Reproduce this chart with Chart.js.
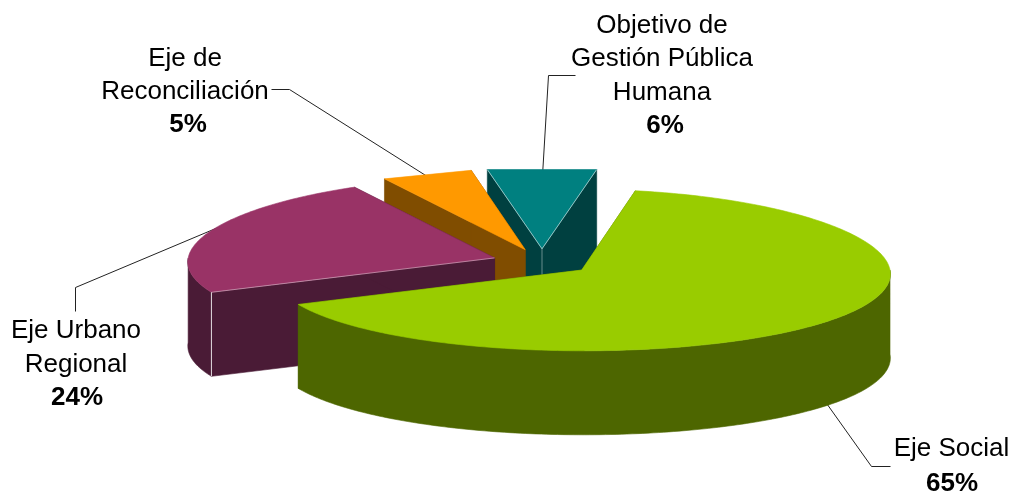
<!DOCTYPE html>
<html>
<head>
<meta charset="utf-8">
<style>html,body{margin:0;padding:0;background:#fff}#wrap{width:1013px;height:495px}</style>
<script src="https://cdn.jsdelivr.net/npm/chart.js@4"></script>
</head>
<body>
<div id="wrap"><canvas id="c" width="1013" height="495"></canvas></div>
<script>
const categories = ["Eje Social", "Eje Urbano Regional", "Eje de Reconciliación", "Objetivo de Gestión Pública Humana"];
const values = [65, 24, 5, 6];
const topColors = ["#99CC00", "#993366", "#FF9900", "#008080"];
const wallColors = ["#4D6600", "#4A1B36", "#804D00", "#004040"];
const labelLines = [["Eje Social"], ["Eje Urbano", "Regional"], ["Eje de", "Reconciliación"], ["Objetivo de", "Gestión Pública", "Humana"]];

// Layout and styling
const labelLayout = [
  {cx: 951.5, base: 456, step: 35, pct: 952},
  {cx: 76, base: 338, step: 33.5, pct: 77},
  {cx: 185, base: 66, step: 33, pct: 188},
  {cx: 662, base: 33, step: 33.4, pct: 665}
];
const leaders = [
  [[824, 400], [871, 466], [890, 466]],
  [[220, 226], [75, 287], [75, 311]],
  [[430, 178], [289, 89], [271, 89]],
  [[542, 175], [548, 75], [575, 75]]
];
const seams = [false, true, false, true];
const EXPLODE = 50, TILT = 0.263, DEPTH = 84, PERSPECTIVE = 0.05, RADIUS = 307;

const pie3d = {
  id: 'pie3d',
  beforeDatasetDraw() { return false; },
  afterDatasetsDraw(chart) {
    const ctx = chart.ctx;
    const arcs = chart.getDatasetMeta(0).data;
    const reach = RADIUS + EXPLODE;
    const proj = (a, px, py, drop) => {
      const X = px - a.x, Y = py - a.y;
      const s = 1 + PERSPECTIVE * Y / reach;
      return [a.x + X * s, a.y + Y * TILT + (drop || 0)];
    };
    const poly = (pts, fill, stroke) => {
      ctx.beginPath();
      pts.forEach((p, i) => i ? ctx.lineTo(p[0], p[1]) : ctx.moveTo(p[0], p[1]));
      ctx.closePath();
      ctx.fillStyle = fill; ctx.fill();
      ctx.strokeStyle = stroke || fill; ctx.lineWidth = 0.6; ctx.stroke();
    };
    // leader lines go underneath the slices, which trim their inner ends
    ctx.strokeStyle = '#222'; ctx.lineWidth = 1;
    leaders.forEach(l => {
      ctx.beginPath();
      l.forEach((p, k) => k ? ctx.lineTo(p[0] + .5, p[1] + .5) : ctx.moveTo(p[0] + .5, p[1] + .5));
      ctx.stroke();
    });
    const order = arcs.map((a, i) => i).sort((p, q) => {
      const m = a => Math.sin((a.startAngle + a.endAngle) / 2);
      return m(arcs[p]) - m(arcs[q]);
    });
    order.forEach(i => {
      const a = arcs[i];
      const mid = (a.startAngle + a.endAngle) / 2;
      const ox = a.x + Math.cos(mid) * EXPLODE, oy = a.y + Math.sin(mid) * EXPLODE;
      const at = t => [ox + Math.cos(t) * a.outerRadius, oy + Math.sin(t) * a.outerRadius];
      const sweep = a.endAngle - a.startAngle;
      const n = sweep < 0.4 ? 1 : Math.round(sweep * 60);
      const angs = [];
      for (let k = 0; k <= n; k++) angs.push(a.startAngle + sweep * k / n);
      const apexT = proj(a, ox, oy, 0), apexB = proj(a, ox, oy, DEPTH);
      const top = angs.map(t => proj(a, at(t)[0], at(t)[1], 0));
      const wall = wallColors[i];
      // radial walls
      [angs[0], angs[n]].forEach(t => {
        const q = at(t);
        poly([apexT, proj(a, q[0], q[1], 0), proj(a, q[0], q[1], DEPTH), apexB], wall);
      });
      // outer wall, front-facing part only
      const front = angs.filter(t => Math.sin(t) >= 0);
      if (front.length > 1) {
        const up = front.map(t => proj(a, at(t)[0], at(t)[1], 0));
        const dn = front.map(t => proj(a, at(t)[0], at(t)[1], DEPTH)).reverse();
        poly(up.concat(dn), wall);
      }
      // top face
      poly([apexT].concat(top), topColors[i]);
      if (seams[i]) {
        ctx.lineWidth = 1;
        if (i === 3) {
          ctx.strokeStyle = 'rgba(255,255,255,0.55)';
          ctx.beginPath();
          ctx.moveTo(top[0][0], top[0][1]); ctx.lineTo(apexT[0], apexT[1]); ctx.lineTo(top[n][0], top[n][1]);
          ctx.stroke();
          ctx.strokeStyle = 'rgba(255,255,255,0.4)';
          ctx.beginPath(); ctx.moveTo(apexT[0], apexT[1]); ctx.lineTo(apexB[0], apexT[1] + 26); ctx.stroke();
        } else {
          const s = top[0];
          ctx.strokeStyle = 'rgba(255,255,255,0.4)';
          ctx.beginPath(); ctx.moveTo(s[0], s[1]); ctx.lineTo(apexT[0], apexT[1]); ctx.stroke();
          ctx.strokeStyle = 'rgba(255,255,255,0.85)';
          ctx.beginPath(); ctx.moveTo(s[0], s[1]); ctx.lineTo(s[0], s[1] + DEPTH); ctx.stroke();
        }
      }
    });
    // labels
    ctx.fillStyle = '#000';
    ctx.textAlign = 'center';
    ctx.textBaseline = 'alphabetic';
    labelLines.forEach((lines, i) => {
      const L = labelLayout[i];
      ctx.font = '26px "Liberation Sans", Arial, sans-serif';
      lines.forEach((t, k) => ctx.fillText(t, L.cx, L.base + k * L.step));
      ctx.font = 'bold 26px "Liberation Sans", Arial, sans-serif';
      ctx.fillText(values[i] + '%', L.pct, L.base + lines.length * L.step);
    });
  }
};

new Chart(document.getElementById('c'), {
  type: 'pie',
  data: {
    labels: categories,
    datasets: [{data: values, backgroundColor: topColors, borderWidth: 0}]
  },
  options: {
    responsive: false,
    animation: false,
    events: [],
    rotation: 10.8,
    radius: RADIUS,
    layout: {padding: {left: 71, top: 29}},
    plugins: {legend: {display: false}, tooltip: {enabled: false}, title: {display: false}}
  },
  plugins: [pie3d]
});
</script>
</body>
</html>
